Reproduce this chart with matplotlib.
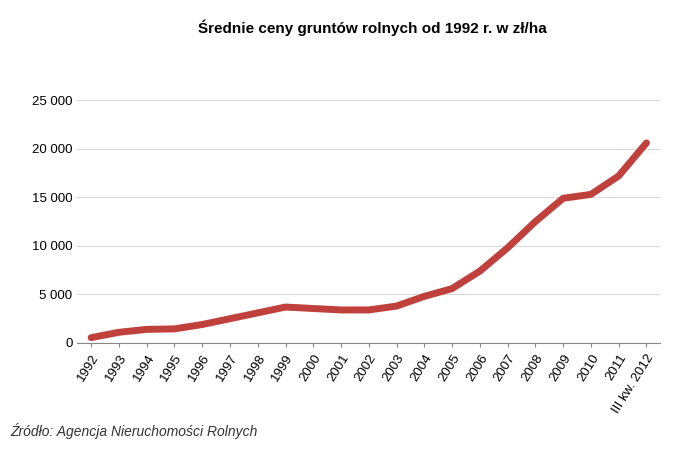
import matplotlib.pyplot as plt
plt.rcParams['font.family'] = ['Liberation Sans', 'DejaVu Sans']

years = ["1992","1993","1994","1995","1996","1997","1998","1999","2000","2001","2002",
         "2003","2004","2005","2006","2007","2008","2009","2010","2011","III kw. 2012"]
prices = [550,1100,1400,1450,1900,2500,3100,3700,3550,3400,3400,
          3800,4800,5600,7400,9800,12500,14900,15300,17200,20600]

fig = plt.figure(figsize=(6.9,4.66), dpi=100)
ax = fig.add_axes([0.112, 0.264, 0.845, 0.521])
x = range(len(years))
ax.plot(x, prices, color="#c0403c", lw=5, solid_capstyle="round")
ax.set_xlim(-0.5, len(years)-0.5)
ax.set_ylim(0, 25000)
ax.set_yticks(range(0, 25001, 5000))
ax.set_yticklabels([f"{v:,}".replace(",", " ") for v in range(0, 25001, 5000)], fontsize=9.5)
ax.set_xticks(list(x))
ax.set_xticklabels(years, rotation=58, ha="right", rotation_mode="anchor", fontsize=9.5)
ax.grid(axis="y", color="#d9d9d9", lw=0.8)
ax.set_axisbelow(True)
for s in ["top","right","left"]:
    ax.spines[s].set_visible(False)
ax.spines["bottom"].set_color("#888888")
ax.tick_params(axis="y", length=0)
ax.tick_params(axis="x", length=3, color="#888888")
fig.text(0.54, 0.93, "Średnie ceny gruntów rolnych od 1992 r. w zł/ha", ha="center",
         fontsize=11, fontweight="bold")
fig.text(0.015, 0.065, "Źródło: Agencja Nieruchomości Rolnych", fontsize=10, style="italic", color="#333333")
fig.savefig("out.png", dpi=100)
